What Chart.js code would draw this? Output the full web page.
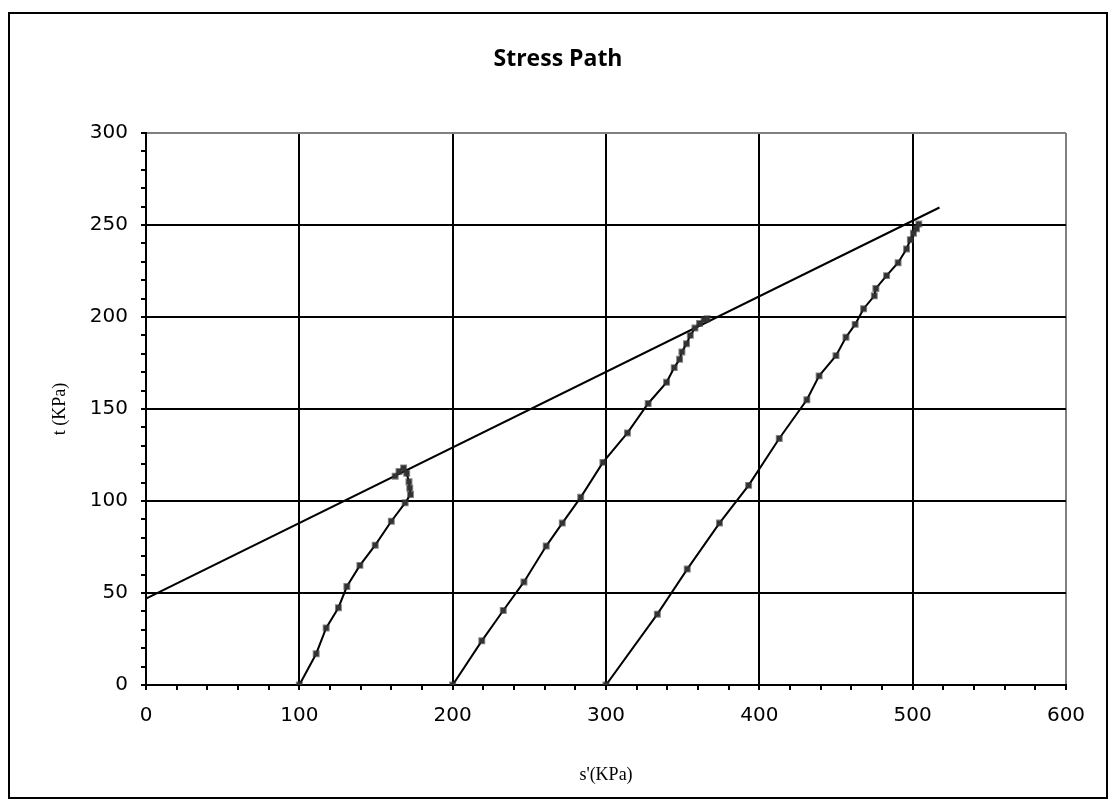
<!DOCTYPE html>
<html>
<head>
<meta charset="utf-8">
<title>Stress Path</title>
<script src="https://cdn.jsdelivr.net/npm/chart.js@4/dist/chart.umd.min.js"></script>
<style>
    body { margin: 0; background: #fff; }
    #stressChart { display: block; }
</style>
</head>
<body>
<canvas id="stressChart" width="1116" height="809"></canvas>
<script>
const path1S = [100, 111, 117.5, 125.5, 131, 139.5, 149.5, 160, 169, 172.5, 172, 171.5, 170, 168, 165, 162.5]
const path1T = [0, 17, 31, 42, 53.5, 65, 76, 89, 99, 103.5, 107, 110.5, 115, 118, 116, 113.5]

const path2S = [200, 219, 233, 246.5, 261, 271.5, 283.5, 298, 314, 327.5, 339.5, 344.5, 348, 349.5, 352.5, 355, 358, 361, 364, 366]
const path2T = [0, 24, 40.5, 56, 75.5, 88, 102, 121, 137, 153, 164.5, 172.5, 177, 181, 185.5, 190, 194, 196.5, 198.5, 199]

const path3S = [300, 333.5, 353, 374, 393, 413, 431, 439, 450, 456.5, 462.5, 468, 475, 476, 483, 490.5, 496, 498.5, 500.5, 502.5, 504]
const path3T = [0, 38.5, 63, 88, 108.5, 134, 155, 168, 179, 189, 196, 204.5, 211.5, 215.5, 222.5, 229.5, 237, 242, 245.5, 248, 250.5]

// failure envelope end points
const envelopeS = [0, 517.5]
const envelopeT = [47, 259.5]

const xTicks = [0, 100, 200, 300, 400, 500, 600]
const yTicks = [0, 50, 100, 150, 200, 250, 300]

function toPoints(sValues, tValues) {
    return sValues.map((s, i) => ({ x: s, y: tValues[i] }))
}

function pathDataset(sValues, tValues) {
    return {
        data: toPoints(sValues, tValues),
        showLine: true,
        borderColor: "#000",
        borderWidth: 2,
        backgroundColor: "#333",
        pointBackgroundColor: "#333",
        pointBorderColor: "rgba(50,50,50,0.6)",
        pointBorderWidth: 2,
        pointStyle: "rect",
        pointRadius: 3.5,
        tension: 0
    }
}

const outerFrame = {
    id: "outerFrame",
    beforeDraw(chart) {
        const ctx = chart.ctx
        ctx.save()
        ctx.fillStyle = "#fff"
        ctx.fillRect(0, 0, chart.width, chart.height)
        ctx.strokeStyle = "#000"
        ctx.lineWidth = 2
        ctx.strokeRect(9, 13, 1098, 785)
        ctx.restore()
    }
}

function gridColor(ticks, lastValue) {
    return (context) => {
        const value = context.tick.value
        if (!ticks.includes(value)) return "rgba(0,0,0,0)"
        return value === lastValue ? "#808080" : "#000"
    }
}

const tickFont = { family: "'DejaVu Sans', Verdana, sans-serif", size: 20 }
const titleFont = { family: "'Liberation Serif', 'Times New Roman', serif", size: 18 }

new Chart(document.getElementById("stressChart"), {
    type: "scatter",
    data: {
        datasets: [
            pathDataset(path1S, path1T),
            pathDataset(path2S, path2T),
            pathDataset(path3S, path3T),
            {
                data: toPoints(envelopeS, envelopeT),
                showLine: true,
                borderColor: "#000",
                borderWidth: 2,
                pointRadius: 0,
                tension: 0
            }
        ]
    },
    options: {
        responsive: false,
        animation: false,
        layout: {
            padding: 0
        },
        plugins: {
            legend: { display: false },
            tooltip: { enabled: false },
            title: {
                display: true,
                text: "Stress Path",
                color: "#000",
                font: { family: "'Open Sans', sans-serif", size: 23, weight: "bold" },
                padding: { top: 46, bottom: 59.4 }
            }
        },
        scales: {
            x: {
                type: "linear",
                min: 0,
                max: 600,
                afterFit(scale) { scale.height = 124 },
                ticks: {
                    stepSize: 20,
                    autoSkip: false,
                    maxRotation: 0,
                    color: "#000",
                    font: tickFont,
                    padding: 14,
                    callback: (value) => xTicks.includes(value) ? String(value) : ""
                },
                grid: {
                    color: gridColor(xTicks, 600),
                    tickColor: "#000",
                    lineWidth: 2,
                    tickLength: 5
                },
                border: { color: "#000", width: 2 },
                title: {
                    display: true,
                    text: "s'(KPa)",
                    color: "#000",
                    font: titleFont,
                    padding: { top: 0, bottom: 23 }
                }
            },
            y: {
                type: "linear",
                min: 0,
                max: 300,
                afterFit(scale) { scale.width = 146 },
                ticks: {
                    stepSize: 10,
                    autoSkip: false,
                    color: "#000",
                    font: tickFont,
                    padding: 13,
                    callback: (value) => yTicks.includes(value) ? String(value) : ""
                },
                grid: {
                    color: gridColor(yTicks, 300),
                    tickColor: "#000",
                    lineWidth: 2,
                    tickLength: 5
                },
                border: { color: "#000", width: 2 },
                title: {
                    display: true,
                    text: "t (KPa)",
                    color: "#000",
                    font: titleFont,
                    padding: { top: 49, bottom: 0 }
                }
            },
            // empty right-hand axis that only reserves the margin
            yRight: {
                type: "linear",
                position: "right",
                min: 0,
                max: 300,
                afterFit(scale) { scale.width = 50 },
                ticks: { display: false },
                grid: { display: false },
                border: { display: false }
            }
        }
    },
    plugins: [outerFrame]
})
</script>
</body>
</html>
